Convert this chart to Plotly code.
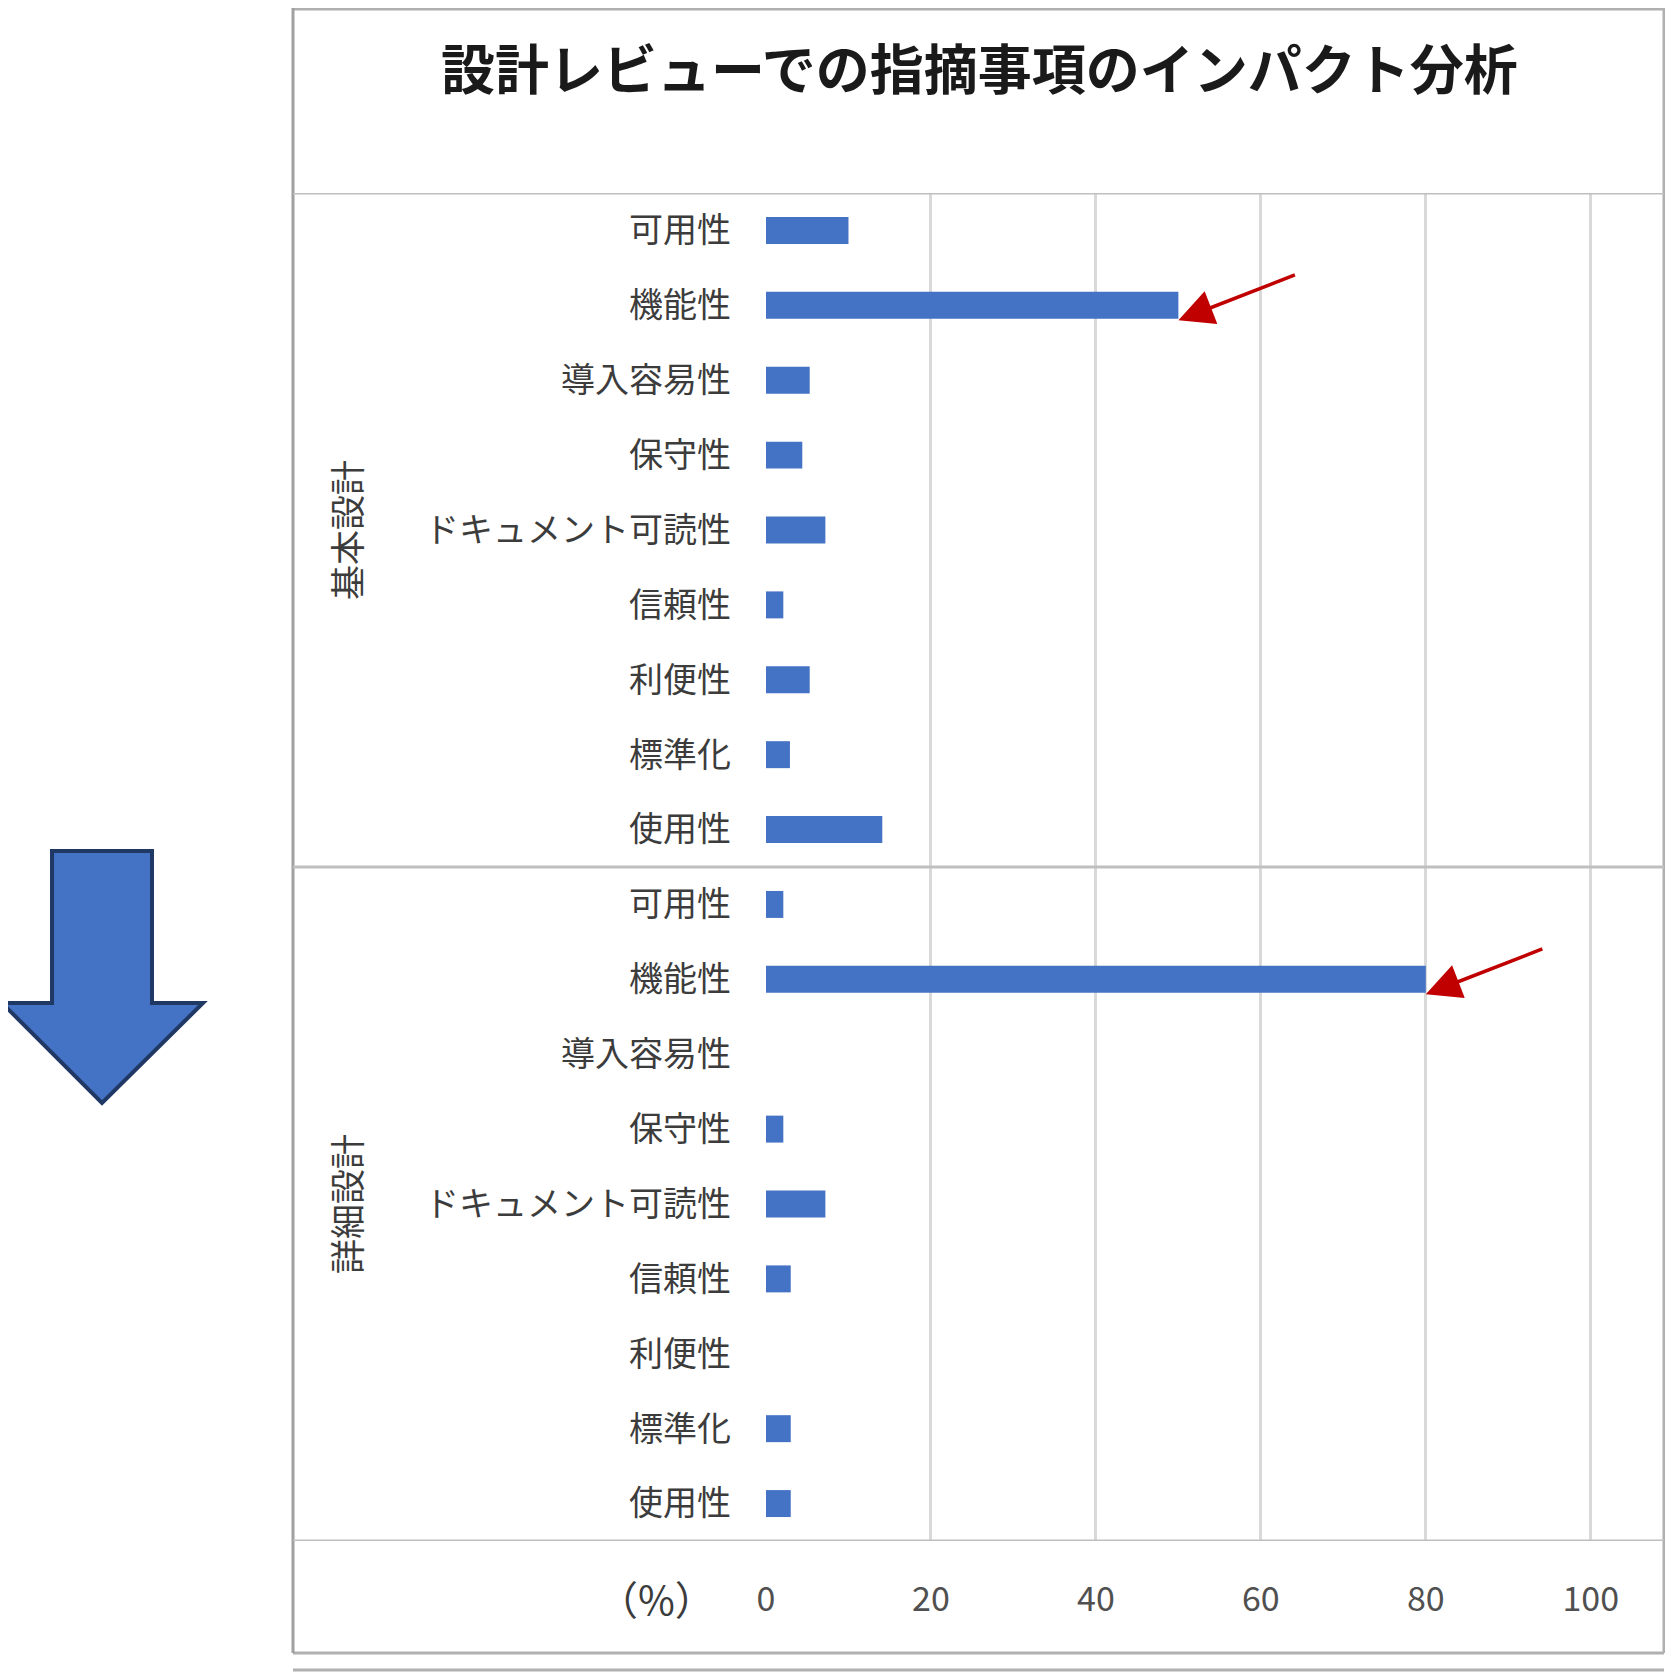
import plotly.graph_objects as go

# data
groups = ["基本設計", "詳細設計"]
items = ["可用性", "機能性", "導入容易性", "保守性", "ドキュメント可読性",
         "信頼性", "利便性", "標準化", "使用性"]
basic_vals = [10, 50, 5.3, 4.4, 7.2, 2.1, 5.3, 2.9, 14.1]
detail_vals = [2.1, 80, 0, 2.1, 7.2, 3.0, 0, 3.0, 3.0]
x_ticks = [0, 20, 40, 60, 80, 100]

# page has an 8px body margin, so the figure is drawn 8px in from the corner
OFF = 8
W, H = 1665, 1670
L, R, T, B = 758, 8, 185, 137
PW, PH = W - L - R, H - T - B


def px(x):
    # page pixel -> paper x
    return (x - OFF - L) / PW


def py(y):
    # page pixel -> paper y
    return (H - B - (y - OFF)) / PH


values = basic_vals + detail_vals
ticktext = items * len(groups)
ypos = list(range(len(values)))

fig = go.Figure()
fig.add_trace(go.Bar(x=values, y=ypos, orientation="h", width=0.36,
                     marker=dict(color="#4472C4", line=dict(width=0)),
                     hoverinfo="x"))

font = "Noto Sans CJK JP"
grey_txt = "#3c3c3c"
line_col = "#bfbfbf"

fig.update_layout(
    width=W, height=H,
    margin=dict(l=L, r=R, t=T, b=B),
    paper_bgcolor="white", plot_bgcolor="white",
    showlegend=False,
    font=dict(family=font, color=grey_txt),
    bargap=0.64,
)
fig.update_xaxes(range=[0, 109], tickvals=x_ticks, showgrid=True,
                 gridcolor="#d9d9d9", gridwidth=3, zeroline=False,
                 showline=False, ticks="", ticklabelstandoff=35,
                 tickfont=dict(size=34, color="#505050", family=font))
fig.update_yaxes(range=[len(values) - 0.5, -0.5], tickvals=ypos,
                 ticktext=ticktext, showgrid=False, zeroline=False,
                 showline=False, ticks="", ticklabelstandoff=34,
                 tickfont=dict(size=34, color=grey_txt, family=font))

# title
fig.add_annotation(text="<b>設計レビューでの指摘事項のインパクト分析</b>",
                   xref="paper", yref="paper", x=px(979), y=py(66),
                   xanchor="center", yanchor="middle", showarrow=False,
                   font=dict(size=54, color="#1a1a1a", family=font))

# group labels (vertical)
n = len(items)
for i, g in enumerate(groups):
    fig.add_annotation(text=g, xref="paper", yref="y", x=px(345),
                       y=i * n + (n - 1) / 2, textangle=-90, showarrow=False,
                       xanchor="center", yanchor="middle",
                       font=dict(size=35, color=grey_txt, family=font))

# unit label
fig.add_annotation(text="（%）", xref="paper", yref="paper", x=px(656), y=py(1598),
                   xanchor="center", yanchor="middle", showarrow=False,
                   font=dict(size=40, color=grey_txt, family=font))

# red pointers at the 機能性 bars
for i, vals in enumerate([basic_vals, detail_vals]):
    k = items.index("機能性")
    fig.add_annotation(x=vals[k], y=i * n + k + 0.2, xref="x", yref="y",
                       ax=118, ay=-46, showarrow=True, arrowhead=2,
                       arrowsize=2.0, arrowwidth=3.5, arrowcolor="#C00000",
                       text="")

shapes = []
# chart frame
x0, x1 = px(293), px(1664)
for yy in [9, 1653, 1670]:
    shapes.append(dict(type="line", xref="paper", yref="paper", x0=x0, x1=x1,
                       y0=py(yy), y1=py(yy), line=dict(color="#b0b0b0", width=3)))
shapes.append(dict(type="line", xref="paper", yref="paper", x0=x0, x1=x0,
                   y0=py(8), y1=py(1653), line=dict(color="#a0a0a0", width=3)))
shapes.append(dict(type="line", xref="paper", yref="paper", x0=x1, x1=x1,
                   y0=py(8), y1=py(1653), line=dict(color="#b0b0b0", width=3)))
# category table lines: top, group divider, bottom
for yy in [-0.5, n - 0.5, len(values) - 0.5]:
    shapes.append(dict(type="line", xref="paper", yref="y", x0=x0, x1=x1,
                       y0=yy, y1=yy, line=dict(color=line_col, width=3)))

# big blue down arrow on the left
pts = [(52, 851), (152, 851), (152, 1003), (203, 1003), (102, 1103),
       (2, 1003), (52, 1003)]
path = "M " + " L ".join(f"{px(a):.4f},{py(b):.4f}" for a, b in pts) + " Z"
shapes.append(dict(type="path", xref="paper", yref="paper", path=path,
                   fillcolor="#4472C4", line=dict(color="#1F3864", width=4)))

fig.update_layout(shapes=shapes)

fig.write_html("out.html")
